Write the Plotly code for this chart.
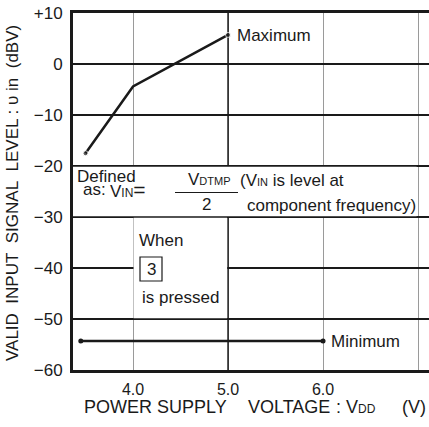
import plotly.graph_objects as go

# data
max_vdd = [3.5, 4.0, 5.0]
max_level = [-17.5, -4.4, 5.7]
min_vdd = [3.45, 6.0]
min_level = [-54.3, -54.3]

y_ticks = [10, 0, -10, -20, -30, -40, -50, -60]
y_tick_text = ["+10", "0", "−10", "−20", "−30", "−40", "−50", "−60"]
x_ticks = [4.0, 5.0, 6.0, 7.0]
x_tick_text = ["4.0", "5.0", "6.0", "7.0"]

W, H = 429, 427
L, R, T, B = 73, 0, 13, 427 - 370
X_RANGE = [3.368, 3.368 + (W - L - R) / 95]
Y_RANGE = [-60, 10]

FONT = "Liberation Sans, Arial, Helvetica, sans-serif"
INK = "#1a1a1a"


def px(x):
    """pixel column -> volts"""
    return X_RANGE[0] + (x - L) / 95


def py(y):
    """pixel row -> dBV"""
    return Y_RANGE[1] - (y - T) / 5.1


def paper(fx, fy):
    """pixel -> plot-area paper coords"""
    return (fx - L) / (W - L - R), (H - B - fy) / (H - T - B)


def sm(t, size=11):
    return f"<span style='font-size:{size}px'>{t}</span>"


fig = go.Figure()
fig.add_scatter(x=max_vdd, y=max_level, mode="lines+markers",
                line=dict(color=INK, width=2.5),
                marker=dict(size=[5, 0, 5], color=INK), hoverinfo="skip")
fig.add_scatter(x=min_vdd, y=min_level, mode="lines+markers",
                line=dict(color=INK, width=2.5),
                marker=dict(size=5, color=INK), hoverinfo="skip")

shapes = [
    # darker 5.0 V grid line
    dict(type="line", xref="x", yref="y", x0=5.0, x1=5.0, y0=-60, y1=10,
         line=dict(color=INK, width=1.5), layer="between"),
    # white panel behind the definition text
    dict(type="rect", xref="x", yref="y", x0=X_RANGE[0], x1=6.985,
         y0=-29.85, y1=-20.15, fillcolor="white", line=dict(width=0), layer="between"),
    # white panel behind the "When 3 is pressed" note
    dict(type="rect", xref="x", yref="y", x0=4.006, x1=4.99,
         y0=-49.85, y1=-30.15, fillcolor="white", line=dict(width=0), layer="between"),
    # fraction bar
    dict(type="line", xref="x", yref="y", x0=px(175), x1=px(238), y0=py(192.5), y1=py(192.5),
         line=dict(color=INK, width=1.2)),
    # key box around "3"
    dict(type="rect", xref="x", yref="y", x0=px(140), x1=px(162), y0=py(281), y1=py(257),
         fillcolor="white", line=dict(color=INK, width=1.2)),
]

notes = [
    (px(235), py(35), "Maximum", 17),
    (px(329), py(341), "Minimum", 17),
    (px(75), py(176), "Defined", 17),
    (px(81), py(189), "as:", 17),
    (px(108), py(189), "V" + sm("IN", 12) + "<span style='font-size:21px'>=</span>", 17),
    (px(186), py(179), "V" + sm("DTMP"), 17),
    (px(200), py(204), "2", 17),
    (px(238), py(180), "(V" + sm("IN") + " is level at", 17),
    (px(245), py(205), "component frequency)", 17),
    (px(137), py(240), "When", 17),
    (px(145), py(269), "3", 17),
    (px(140), py(297), "is pressed", 17),
]
annotations = [dict(x=x, y=y, xref="x", yref="y", text=t, showarrow=False,
                    xanchor="left", yanchor="middle", font=dict(size=s, color=INK))
               for x, y, t, s in notes]

# x-axis title, laid out in pieces as spaced in the original
x_title = [
    (82, "POWER SUPPLY", "left"),
    (246, "VOLTAGE", "left"),
    (338, ":", "center"),
    (344, "V" + sm("DD", 12), "left"),
    (428, "(V)", "right"),
]
for fx, t, anchor in x_title:
    tx, ty = paper(fx, 407)
    annotations.append(dict(x=tx, y=ty, xref="paper", yref="paper", text=t,
                            showarrow=False, xanchor=anchor, yanchor="middle",
                            font=dict(size=18, color=INK)))

tx, ty = paper(12, 193)
annotations.append(dict(
    x=tx, y=ty, xref="paper", yref="paper", showarrow=False, textangle=-90,
    text="VALID&nbsp;&nbsp;INPUT&nbsp;&nbsp;SIGNAL&nbsp;&nbsp;LEVEL : υ in&nbsp;&nbsp;(dBV)",
    font=dict(size=17, color=INK), xanchor="center", yanchor="middle"))

fig.update_layout(
    width=W, height=H, margin=dict(l=L, r=R, t=T, b=B),
    paper_bgcolor="white", plot_bgcolor="white",
    font=dict(family=FONT, size=17, color=INK),
    showlegend=False, shapes=shapes, annotations=annotations,
)
fig.update_xaxes(range=X_RANGE, tickvals=x_ticks, ticktext=x_tick_text,
                 tickfont=dict(size=16),
                 showgrid=True, gridcolor="#9a9a9a", gridwidth=1,
                 showline=True, linecolor=INK, linewidth=3, mirror=True,
                 ticks="", ticklabelstandoff=3, zeroline=False)
fig.update_yaxes(range=Y_RANGE, tickvals=y_ticks, ticktext=y_tick_text,
                 showgrid=True, gridcolor=INK, gridwidth=1.5,
                 showline=True, linecolor=INK, linewidth=3, mirror=False,
                 ticks="", ticklabelstandoff=4, zeroline=False)

fig.write_html("out.html", config={"displayModeBar": False},
               post_script="document.body.style.margin='0';")
